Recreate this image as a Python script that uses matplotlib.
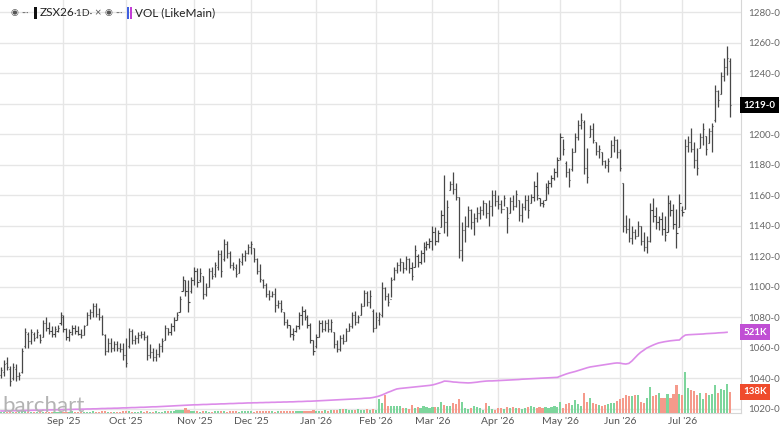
import matplotlib
matplotlib.use("Agg")
import matplotlib.pyplot as plt
import matplotlib.transforms as mtransforms
from matplotlib.patches import Rectangle

plt.rcParams['font.family'] = ['Lato', 'DejaVu Sans']

# daily OHLC, ZSX26, Aug 2025 .. Jul 2026 (one entry per trading day)
opens = [
    1042, 1044, 1050, 1046, 1040, 1046, 1041, 1044, 1061, 1069,
    1064, 1069, 1067, 1068, 1067, 1076, 1073, 1071, 1069, 1071,
    1076, 1080, 1072, 1067, 1069, 1073, 1071, 1069, 1068, 1075,
    1081, 1083, 1087, 1082, 1080, 1068, 1058, 1063, 1060, 1062,
    1060, 1059, 1055, 1061, 1071, 1065, 1066, 1068, 1069, 1067,
    1055, 1057, 1054, 1056, 1061, 1065, 1073, 1070, 1074, 1078,
    1083, 1097, 1104, 1097, 1097, 1104, 1110, 1104, 1107, 1095,
    1100, 1110, 1108, 1113, 1121, 1118, 1128, 1122, 1114, 1112,
    1109, 1116, 1120, 1122, 1126, 1125, 1118, 1110, 1104, 1101,
    1095, 1094, 1095, 1088, 1089, 1083, 1077, 1075, 1069, 1071,
    1074, 1081, 1084, 1080, 1075, 1065, 1061, 1067, 1076, 1072,
    1076, 1072, 1070, 1062, 1059, 1066, 1064, 1071, 1074, 1081,
    1077, 1081, 1087, 1096, 1090, 1084, 1073, 1078, 1081, 1099,
    1094, 1092, 1105, 1111, 1114, 1116, 1112, 1118, 1112, 1113,
    1120, 1116, 1122, 1126, 1128, 1130, 1136, 1130, 1139, 1147,
    1142, 1163, 1167, 1164, 1159, 1124, 1137, 1140, 1150, 1142,
    1145, 1148, 1150, 1155, 1148, 1153, 1160, 1156, 1154, 1151,
    1152, 1148, 1156, 1153, 1157, 1147, 1152, 1157, 1155, 1159,
    1166, 1158, 1155, 1157, 1165, 1168, 1171, 1175, 1184, 1198,
    1181, 1175, 1177, 1188, 1198, 1206, 1208, 1178, 1198, 1203,
    1195, 1189, 1188, 1182, 1180, 1185, 1193, 1196, 1188, 1168,
    1140, 1138, 1132, 1136, 1133, 1140, 1130, 1126, 1130, 1150,
    1146, 1142, 1144, 1138, 1136, 1155, 1150, 1141, 1139, 1150,
    1151, 1192, 1195, 1190, 1183, 1191, 1198, 1199, 1194, 1202,
    1209, 1228, 1226, 1238, 1244, 1248,
]
highs = [
    1047, 1052, 1054, 1048, 1050, 1049, 1044, 1060, 1073, 1070,
    1072, 1070, 1072, 1069, 1078, 1080, 1077, 1074, 1074, 1075,
    1083, 1081, 1073, 1072, 1075, 1075, 1074, 1072, 1075, 1083,
    1085, 1089, 1089, 1086, 1081, 1069, 1066, 1066, 1064, 1064,
    1063, 1063, 1066, 1073, 1072, 1068, 1070, 1071, 1071, 1068,
    1062, 1060, 1059, 1063, 1066, 1075, 1073, 1076, 1080, 1083,
    1094, 1107, 1104, 1104, 1106, 1113, 1112, 1112, 1107, 1102,
    1112, 1113, 1116, 1124, 1124, 1131, 1130, 1123, 1116, 1115,
    1119, 1122, 1124, 1128, 1130, 1125, 1119, 1115, 1105, 1102,
    1098, 1097, 1099, 1091, 1091, 1083, 1079, 1075, 1073, 1075,
    1083, 1087, 1085, 1081, 1076, 1065, 1069, 1078, 1078, 1078,
    1079, 1079, 1070, 1065, 1068, 1069, 1073, 1076, 1083, 1084,
    1081, 1089, 1098, 1097, 1098, 1085, 1083, 1083, 1103, 1100,
    1096, 1106, 1113, 1116, 1119, 1116, 1120, 1119, 1116, 1127,
    1121, 1124, 1129, 1130, 1132, 1140, 1139, 1137, 1150, 1173,
    1157, 1169, 1175, 1168, 1159, 1142, 1146, 1153, 1151, 1148,
    1152, 1153, 1157, 1155, 1157, 1163, 1163, 1160, 1157, 1160,
    1152, 1159, 1160, 1163, 1157, 1155, 1160, 1160, 1161, 1169,
    1175, 1158, 1157, 1168, 1170, 1173, 1178, 1185, 1201, 1197,
    1182, 1178, 1191, 1201, 1209, 1214, 1209, 1191, 1206, 1207,
    1195, 1193, 1188, 1183, 1184, 1196, 1199, 1197, 1190, 1168,
    1147, 1145, 1140, 1138, 1143, 1140, 1136, 1133, 1155, 1158,
    1152, 1146, 1149, 1146, 1160, 1157, 1154, 1151, 1161, 1153,
    1197, 1199, 1204, 1195, 1191, 1201, 1207, 1199, 1204, 1207,
    1232, 1229, 1241, 1250, 1258, 1250,
]
lows = [
    1040, 1041, 1045, 1035, 1039, 1038, 1039, 1043, 1060, 1060,
    1062, 1064, 1066, 1063, 1067, 1071, 1069, 1067, 1067, 1070,
    1075, 1070, 1065, 1064, 1068, 1069, 1068, 1066, 1068, 1075,
    1079, 1080, 1080, 1078, 1068, 1055, 1057, 1057, 1058, 1058,
    1057, 1052, 1047, 1060, 1062, 1062, 1063, 1066, 1065, 1052,
    1053, 1051, 1051, 1054, 1057, 1065, 1068, 1068, 1071, 1078,
    1083, 1097, 1094, 1083, 1096, 1101, 1100, 1103, 1092, 1094,
    1100, 1105, 1106, 1111, 1106, 1117, 1119, 1112, 1111, 1106,
    1109, 1114, 1117, 1121, 1121, 1116, 1108, 1103, 1099, 1093,
    1091, 1093, 1083, 1086, 1083, 1075, 1073, 1067, 1065, 1070,
    1072, 1075, 1078, 1073, 1063, 1055, 1060, 1067, 1070, 1071,
    1070, 1070, 1060, 1057, 1058, 1062, 1064, 1071, 1073, 1075,
    1076, 1081, 1087, 1087, 1086, 1070, 1073, 1075, 1080, 1091,
    1087, 1093, 1104, 1109, 1110, 1109, 1111, 1109, 1104, 1113,
    1113, 1115, 1116, 1124, 1125, 1124, 1127, 1129, 1139, 1135,
    1133, 1163, 1161, 1157, 1119, 1117, 1129, 1139, 1138, 1134,
    1142, 1144, 1147, 1145, 1140, 1146, 1153, 1151, 1148, 1153,
    1135, 1148, 1150, 1152, 1143, 1142, 1150, 1145, 1155, 1156,
    1157, 1153, 1152, 1157, 1161, 1165, 1170, 1172, 1183, 1186,
    1172, 1165, 1176, 1188, 1196, 1203, 1174, 1168, 1198, 1194,
    1186, 1184, 1180, 1178, 1175, 1185, 1188, 1184, 1176, 1136,
    1135, 1129, 1128, 1131, 1133, 1127, 1123, 1122, 1129, 1142,
    1138, 1137, 1134, 1130, 1136, 1146, 1138, 1125, 1139, 1146,
    1151, 1188, 1188, 1178, 1173, 1191, 1193, 1186, 1194, 1188,
    1208, 1218, 1226, 1235, 1239, 1211,
]
closes = [
    1045, 1049, 1047, 1038, 1047, 1041, 1042, 1058, 1070, 1064,
    1070, 1066, 1070, 1065, 1076, 1073, 1071, 1069, 1072, 1073,
    1081, 1072, 1067, 1070, 1073, 1071, 1069, 1068, 1074, 1081,
    1083, 1087, 1082, 1080, 1069, 1058, 1063, 1060, 1062, 1060,
    1059, 1055, 1050, 1071, 1065, 1066, 1068, 1069, 1067, 1055,
    1057, 1054, 1056, 1061, 1064, 1073, 1070, 1074, 1078, 1081,
    1092, 1104, 1097, 1090, 1104, 1110, 1103, 1109, 1095, 1100,
    1110, 1107, 1114, 1121, 1110, 1128, 1122, 1114, 1113, 1108,
    1117, 1120, 1122, 1126, 1128, 1118, 1110, 1105, 1101, 1095,
    1094, 1095, 1088, 1089, 1085, 1077, 1075, 1069, 1068, 1074,
    1081, 1084, 1080, 1075, 1065, 1058, 1067, 1076, 1072, 1076,
    1072, 1077, 1062, 1059, 1066, 1064, 1071, 1074, 1081, 1077,
    1080, 1087, 1096, 1090, 1094, 1073, 1080, 1082, 1099, 1094,
    1090, 1104, 1111, 1114, 1116, 1112, 1118, 1112, 1107, 1124,
    1116, 1122, 1126, 1128, 1130, 1136, 1130, 1135, 1147, 1142,
    1152, 1167, 1164, 1159, 1124, 1137, 1140, 1150, 1142, 1145,
    1148, 1150, 1155, 1148, 1153, 1160, 1156, 1154, 1151, 1158,
    1145, 1156, 1153, 1161, 1147, 1152, 1157, 1150, 1159, 1166,
    1160, 1155, 1154, 1165, 1168, 1171, 1175, 1183, 1198, 1190,
    1175, 1170, 1188, 1198, 1206, 1209, 1178, 1172, 1203, 1196,
    1189, 1190, 1182, 1180, 1182, 1193, 1196, 1188, 1178, 1140,
    1138, 1132, 1136, 1133, 1140, 1130, 1126, 1130, 1150, 1146,
    1142, 1144, 1138, 1134, 1155, 1150, 1141, 1135, 1155, 1149,
    1192, 1195, 1190, 1183, 1178, 1198, 1203, 1190, 1202, 1205,
    1228, 1222, 1238, 1244, 1250, 1219,
]
# volume, thousands of contracts
volume = [
    6, 8, 5, 7, 9, 6, 5, 12, 10, 7, 6, 5, 8, 6, 9, 7, 5, 6, 8, 7, 9,
    8, 6, 7, 10, 6, 5, 8, 7, 9, 6, 10, 8, 9, 12, 14, 9, 7, 8, 6, 9, 11,
    12, 10, 8, 9, 7, 10, 8, 13, 9, 7, 10, 8, 9, 11, 14, 12, 16, 18, 20, 22, 30, 18, 15,
    12, 10, 9, 14, 11, 8, 9, 12, 10, 13, 11, 9, 15, 12, 10, 8, 11, 14, 10,
    12, 9, 10, 11, 13, 15, 12, 10, 9, 11, 14, 12, 10, 13, 11, 15, 12, 14, 16, 13, 15, 17,
    14, 16, 13, 18, 15, 20, 17, 22, 25, 28, 24, 20, 18, 22, 25, 20, 22, 24, 22, 28,
    20, 90, 65, 116, 45, 45, 48, 42, 45, 30, 32, 28, 50, 35, 38, 32, 45, 36, 34,
    40, 38, 36, 70, 50, 45, 45, 65, 55, 90, 70, 30, 25, 30, 45, 40, 30, 20, 62, 45, 25, 20,
    30, 35, 28, 40, 32, 38, 30, 35, 28, 32, 40, 45, 40, 35, 38, 32, 36, 35, 40, 45, 38,
    70, 30, 58, 62, 50, 84, 58, 45, 127, 70, 100, 65, 58, 50, 45, 50, 58, 62, 65, 80,
    90, 100, 116, 110, 110, 116, 116, 70,
    62, 95, 170, 110, 116, 127, 100, 100, 120, 100, 120, 180, 120, 116, 264,
    160, 148, 142, 116, 127, 90, 127, 116, 120, 180, 127, 155, 148, 187, 138,
]
# open interest, thousands (last day not reported yet)
open_interest = [
    13, 13, 14, 14, 15, 15, 15, 16, 16, 17, 17, 18, 18, 18, 19, 19, 20, 20, 21, 21, 22,
    22, 22, 23, 23, 24, 24, 25, 25, 26, 26, 27, 27, 28, 29, 29, 30, 30, 31, 31, 32, 33,
    33, 34, 35, 35, 36, 37, 37, 38, 39, 40, 40, 41, 42, 43, 44, 45, 46, 47, 48, 49, 50, 51, 52,
    53, 53, 54, 55, 55, 56, 57, 57, 58, 59, 59, 60, 61, 61, 62, 63, 63, 64, 65,
    65, 66, 66, 67, 67, 68, 68, 69, 69, 70, 70, 71, 71, 72, 72, 73, 74, 74, 75, 76, 76, 77,
    78, 79, 80, 81, 82, 83, 84, 85, 86, 87, 88, 89, 90, 91, 92, 93, 95, 96, 97, 100,
    104, 109, 116, 124, 133, 140, 148, 155, 158, 160, 162, 164, 166, 168, 170, 172, 174, 176, 178,
    181, 186, 192, 198, 206, 205, 203, 200, 199, 197, 196, 195, 194, 195, 197, 199, 202, 204, 206, 207, 207, 208,
    209, 210, 211, 212, 213, 214, 215, 216, 218, 219, 220, 221, 222, 223, 224, 225, 226, 227, 228, 229, 230,
    238, 245, 252, 258, 263, 268, 274, 280, 286, 292, 297, 300, 303, 306, 309, 312, 315, 318, 321, 323,
    322, 318, 316, 320, 335, 355, 375, 392, 405, 419, 428, 437, 445, 452, 456, 460, 463, 466, 468, 470, 471,
    490, 503, 505, 506, 507, 508, 509, 510, 512, 513, 514, 515, 517, 518, 519, 521,
]

month_pos = [21, 42, 65, 84, 106, 126, 145, 167, 188, 208, 229]
month_labels = ["Sep '25", "Oct '25", "Nov '25", "Dec '25", "Jan '26", "Feb '26",
                "Mar '26", "Apr '26", "May '26", "Jun '26", "Jul '26"]
price_ticks = list(range(1020, 1281, 20))

W, H = 780, 432
fig = plt.figure(figsize=(W / 100, H / 100), dpi=100)
fig.patch.set_facecolor("white")
ax = fig.add_axes([0, 19 / H, 741 / W, 413 / H])
ax.set_xlim(-0.34, 248.7)
ax.set_ylim(1017.05, 1287.9)

# volume + open interest on a twin scale (made first, twinx moves ax ticks left)
ax2 = ax.twinx()
ax2.set_ylim(0, 2665)
ax2.set_yticks([])
for s in ax2.spines.values():
    s.set_visible(False)

last = closes[-1]
ax.set_yticks(price_ticks)
# the tick hidden under the last-price tag is left blank
ax.set_yticklabels(["" if abs(t - last) < 8 else f"{t}-0" for t in price_ticks])
ax.set_xticks(month_pos)
ax.set_xticklabels(month_labels)
ax.grid(True, color="#e6e6e6", lw=1.0)
ax.set_axisbelow(True)
ax.yaxis.tick_right()
ax.tick_params(axis="y", length=0, labelsize=7, labelcolor="#666666", pad=5,
               labelright=True, labelleft=False)
ax.tick_params(axis="x", length=0, labelsize=7.5, labelcolor="#555555", pad=3)
for s in ["top", "left"]:
    ax.spines[s].set_visible(False)
for s in ["right", "bottom"]:
    ax.spines[s].set_color("#d6d6d6")

# OHLC bars
idx = list(range(len(closes)))
bar_col = "#474747"
ax.vlines(idx, lows, highs, color=bar_col, lw=0.9, zorder=3)
ax.hlines(opens, [i - 0.38 for i in idx], idx, color=bar_col, lw=0.8, zorder=3)
ax.hlines(closes, idx, [i + 0.38 for i in idx], color=bar_col, lw=0.8, zorder=3)

vcols = []
for i, c in enumerate(closes):
    prev = closes[i - 1] if i else c
    vcols.append("#7dd59c" if c >= prev else "#f59a8b")
ax2.bar(idx, volume, width=0.72, color=vcols, zorder=2)
ax2.plot(range(len(open_interest)), open_interest, color="#dc8ce9", lw=1.2, zorder=2)

# last-value tags on the right
tr1 = mtransforms.blended_transform_factory(ax.transAxes, ax.transData)
ax.text(1.003, last, f"{last}-0", transform=tr1, ha="left", va="center",
        fontsize=7, fontweight="bold", color="white", clip_on=False, zorder=6,
        bbox=dict(boxstyle="square,pad=0.35", fc="black", ec="none"))
tr2 = mtransforms.blended_transform_factory(ax2.transAxes, ax2.transData)
ax2.text(1.003, open_interest[-1], f"{open_interest[-1]}K", transform=tr2, ha="left",
         va="center", fontsize=7, fontweight="bold", color="white", clip_on=False,
         bbox=dict(boxstyle="square,pad=0.35", fc="#c04fd4", ec="none"))
ax2.text(1.003, volume[-1], f"{volume[-1]}K", transform=tr2, ha="left",
         va="center", fontsize=7, fontweight="bold", color="white", clip_on=False,
         bbox=dict(boxstyle="square,pad=0.35", fc="#ef4b2c", ec="none"))

# watermark
fig.text(2 / W, 1 - 412 / H, "barchart", fontsize=16, color="#b3b3b3",
         ha="left", va="baseline")

# header legend
hy = 1 - 13 / H
fig.text(14 / W, hy, "\u25c9", fontsize=6.5, color="#555555", ha="center", va="center")
fig.text(25 / W, hy, "\u00b7\u00b7\u00b7", fontsize=7, color="#666666", ha="center", va="center")
fig.patches.append(Rectangle((34 / W, 1 - 19 / H), 2.5 / W, 12 / H, fc="#111111",
                             ec="none", transform=fig.transFigure))
fig.text(40 / W, hy, "ZSX26", fontsize=8.5, color="#222222", ha="left", va="center")
fig.text(73 / W, hy, "\u00b71D\u00b7", fontsize=7.5, color="#333333", ha="left", va="center")
fig.text(98 / W, hy, "\u00d7", fontsize=8, color="#555555", ha="center", va="center")
fig.text(108 / W, hy, "\u25c9", fontsize=6.5, color="#555555", ha="center", va="center")
fig.text(119 / W, hy, "\u00b7\u00b7\u00b7", fontsize=7, color="#666666", ha="center", va="center")
fig.patches.append(Rectangle((127 / W, 1 - 19 / H), 2.2 / W, 12 / H, fc="#3f5fe0",
                             ec="none", transform=fig.transFigure))
fig.patches.append(Rectangle((130 / W, 1 - 19 / H), 2.2 / W, 12 / H, fc="#c43dd6",
                             ec="none", transform=fig.transFigure))
fig.text(135 / W, hy, "VOL (LikeMain)", fontsize=8.5, color="#222222", ha="left", va="center")

fig.savefig("out.png", dpi=100, facecolor="white")
